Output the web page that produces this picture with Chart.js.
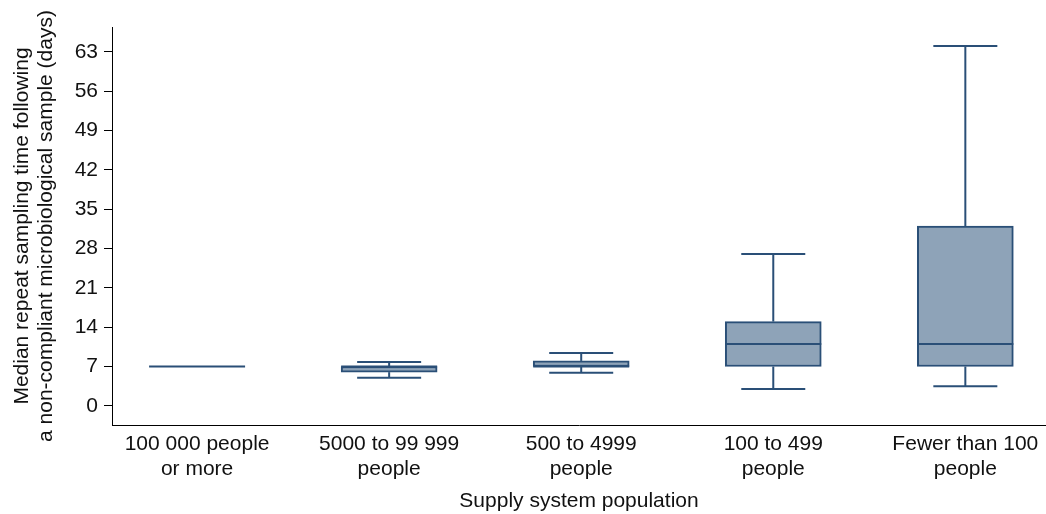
<!DOCTYPE html>
<html>
<head>
<meta charset="utf-8">
<script src="https://cdn.jsdelivr.net/npm/chart.js@4.4.1/dist/chart.umd.min.js"></script>
<style>
  html, body { margin: 0; padding: 0; background: #ffffff; }
  #wrap { width: 1046px; height: 514px; }
</style>
</head>
<body>
<div id="wrap"><canvas id="chart" width="1046" height="514"></canvas></div>
<script>
  var categories = [
    ['100 000 people', 'or more'],
    ['5000 to 99 999', 'people'],
    ['500 to 4999', 'people'],
    ['100 to 499', 'people'],
    ['Fewer than 100', 'people']
  ];
  var whiskerLow = [7, 5, 5.9, 3, 3.5];
  var boxLow = [7, 6, 7, 7, 7];
  var medians = [7, 7, 7, 11, 11];
  var boxHigh = [7, 7, 8, 15, 32];
  var whiskerHigh = [7, 7.8, 9.4, 27, 64];
  var yTicks = [0, 7, 14, 21, 28, 35, 42, 49, 56, 63];

  var fill = '#8ea3b8';
  var edge = '#2a4f77';
  var font = 'Liberation Sans, Arial, Helvetica, sans-serif';

  var boxData = categories.map(function (c, i) {
    return { x: i, y: [boxLow[i], boxHigh[i]] };
  });

  // whiskers, caps and medians drawn through the scales
  var whiskerPlugin = {
    id: 'whiskers',
    afterDatasetsDraw: function (chart) {
      var ctx = chart.ctx;
      var xs = chart.scales.x;
      var ys = chart.scales.y;
      var halfBox = 48;
      var halfCap = 32;
      ctx.save();
      ctx.strokeStyle = edge;
      ctx.lineWidth = 2;
      for (var i = 0; i < categories.length; i++) {
        var x = xs.getPixelForValue(i);
        var segs = [];
        if (whiskerHigh[i] > boxHigh[i]) {
          segs.push([x, ys.getPixelForValue(boxHigh[i]), x, ys.getPixelForValue(whiskerHigh[i])]);
          segs.push([x - halfCap, ys.getPixelForValue(whiskerHigh[i]), x + halfCap, ys.getPixelForValue(whiskerHigh[i])]);
        }
        if (whiskerLow[i] < boxLow[i]) {
          segs.push([x, ys.getPixelForValue(boxLow[i]), x, ys.getPixelForValue(whiskerLow[i])]);
          segs.push([x - halfCap, ys.getPixelForValue(whiskerLow[i]), x + halfCap, ys.getPixelForValue(whiskerLow[i])]);
        }
        segs.push([x - halfBox, ys.getPixelForValue(medians[i]), x + halfBox, ys.getPixelForValue(medians[i])]);
        segs.forEach(function (s) {
          ctx.beginPath();
          ctx.moveTo(s[0], s[1]);
          ctx.lineTo(s[2], s[3]);
          ctx.stroke();
        });
      }
      ctx.restore();
    }
  };

  new Chart(document.getElementById('chart'), {
    type: 'bar',
    data: {
      datasets: [{
        data: boxData,
        backgroundColor: fill,
        borderColor: edge,
        borderWidth: 2,
        borderSkipped: false,
        barThickness: 96
      }]
    },
    plugins: [whiskerPlugin],
    options: {
      responsive: false,
      animation: false,
      events: [],
      layout: { padding: { top: 27, right: 0, left: 0, bottom: 0 } },
      plugins: { legend: { display: false }, tooltip: { enabled: false } },
      scales: {
        x: {
          type: 'linear',
          offset: false,
          min: -0.443,
          max: 4.42,
          afterFit: function (scale) { scale.height = 89; },
          afterBuildTicks: function (scale) {
            scale.ticks = categories.map(function (c, i) { return { value: i }; });
          },
          grid: { display: false, drawTicks: false, tickLength: 0 },
          border: { display: true, color: '#000000', width: 1 },
          ticks: {
            autoSkip: false,
            maxRotation: 0,
            padding: 7,
            color: '#111111',
            font: { family: font, size: 21, lineHeight: 1.19 },
            callback: function (value) { return categories[value]; }
          },
          title: {
            display: true,
            text: 'Supply system population',
            color: '#111111',
            padding: { top: 0, bottom: 0 },
            font: { family: font, size: 21, lineHeight: 1.19 }
          }
        },
        y: {
          min: -3.4,
          max: 67.4,
          afterFit: function (scale) { scale.width = 112; },
          afterBuildTicks: function (scale) {
            scale.ticks = yTicks.map(function (v) { return { value: v }; });
          },
          grid: { display: true, drawOnChartArea: false, drawTicks: true, tickLength: 8, color: '#000000' },
          border: { display: true, color: '#000000', width: 1 },
          ticks: {
            padding: 6,
            color: '#111111',
            font: { family: font, size: 21 }
          },
          title: {
            display: true,
            text: ['Median repeat sampling time following', 'a non-compliant microbiological sample (days)'],
            color: '#111111',
            padding: { top: 10, bottom: 0 },
            font: { family: font, size: 21, lineHeight: 1.15 }
          }
        }
      }
    }
  });
</script>
</body>
</html>
